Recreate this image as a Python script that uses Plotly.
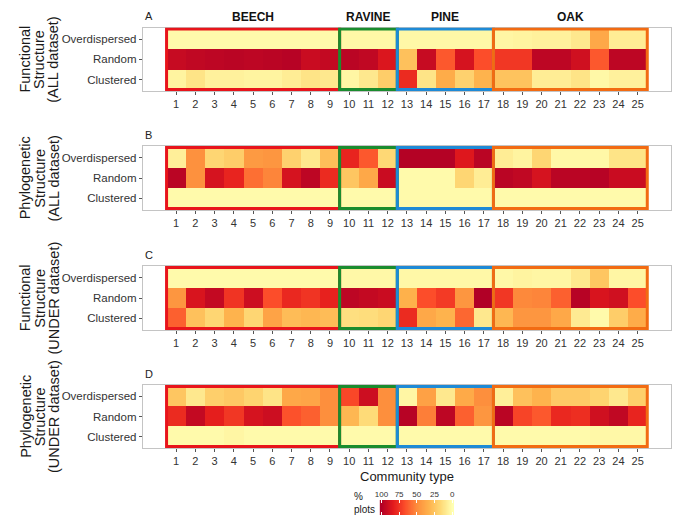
import numpy as np
import plotly.graph_objects as go

# ---- data -----------------------------------------------------------------
COMMUNITIES = list(range(1, 26))
ROWS = ["Clustered", "Random", "Overdispersed"]  # bottom -> top

# Panel A: functional structure, ALL dataset (% plots)
FA_OVER = [2, 2, 2, 2, 2, 2, 2, 2, 2, 3, 3, 3, 3, 3, 3, 3, 3, 4, 5, 6, 6, 10, 38, 8, 8]
FA_RAND = [93, 95, 96, 97, 96, 97, 98, 92, 94, 97, 95, 86, 27, 93, 64, 88, 67, 74, 74, 96, 96, 90, 64, 96, 96]
FA_CLUS = [5, 12, 6, 6, 5, 5, 8, 12, 10, 4, 10, 22, 78, 12, 36, 20, 33, 26, 26, 8, 8, 12, 3, 6, 6]

# Panel B: phylogenetic structure, ALL dataset
PA_OVER = [7, 48, 18, 22, 44, 46, 20, 10, 28, 80, 64, 17, 99, 99, 99, 85, 97, 8, 5, 18, 3, 3, 3, 12, 12]
PA_RAND = [97, 48, 88, 80, 58, 52, 88, 96, 78, 25, 38, 92, 2, 2, 2, 18, 8, 97, 95, 88, 97, 97, 98, 92, 92]
PA_CLUS = [2, 2, 2, 2, 2, 2, 2, 2, 2, 2, 2, 2, 2, 2, 2, 2, 2, 2, 2, 2, 2, 2, 2, 2, 2]

# Panel C: functional structure, UNDER dataset
FU_OVER = [2, 2, 2, 2, 2, 2, 2, 2, 2, 3, 3, 3, 3, 3, 3, 3, 3, 3, 5, 4, 4, 10, 25, 4, 4]
FU_RAND = [46, 87, 94, 75, 91, 67, 79, 75, 81, 96, 94, 92, 34, 67, 73, 46, 100, 74, 51, 52, 62, 98, 87, 90, 67]
FU_CLUS = [62, 27, 18, 33, 18, 40, 29, 31, 29, 14, 15, 18, 78, 38, 33, 60, 10, 31, 46, 46, 38, 9, 2, 22, 36]

# Panel D: phylogenetic structure, UNDER dataset
PU_OVER = [25, 10, 21, 24, 19, 12, 38, 39, 49, 69, 91, 49, 4, 41, 10, 37, 49, 7, 27, 33, 23, 23, 19, 10, 21]
PU_RAND = [78, 94, 82, 74, 88, 91, 66, 62, 49, 31, 16, 49, 98, 54, 96, 62, 46, 97, 70, 64, 79, 77, 90, 95, 80]
PU_CLUS = [2, 2, 2, 4, 2, 2, 2, 2, 2, 2, 2, 2, 2, 2, 2, 2, 2, 2, 2, 2, 2, 2, 3, 3, 3]

PANELS = [
    ("A", ["Functional", "Structure", "(ALL dataset)"], FA_CLUS, FA_RAND, FA_OVER),
    ("B", ["Phylogenetic", "Structure", "(ALL dataset)"], PA_CLUS, PA_RAND, PA_OVER),
    ("C", ["Functional", "Structure", "(UNDER dataset)"], FU_CLUS, FU_RAND, FU_OVER),
    ("D", ["Phylogenetic", "Structure", "(UNDER dataset)"], PU_CLUS, PU_RAND, PU_OVER),
]

# forest types: name, first community, last community
GROUP_NAMES = ["BEECH", "RAVINE", "PINE", "OAK"]
GROUP_START = [1, 10, 13, 18]
GROUP_END = [9, 12, 17, 25]
GROUP_COLORS = ["#E8141B", "#1A8C2E", "#1E8AD6", "#F26B12"]

LEGEND_TICKS = [0, 25, 50, 75, 100]

# ---- styling --------------------------------------------------------------
W, H = 678, 519
FONT = "Arial, 'Liberation Sans', sans-serif"
YLORRD = [[0, "#FFFFB2"], [1 / 6, "#FED976"], [2 / 6, "#FEB24C"], [3 / 6, "#FD8D3C"],
          [4 / 6, "#FC4E2A"], [5 / 6, "#E31A1C"], [1, "#B10026"]]
FRAME = "#C4C4C4"
TXT = "#333333"

X_DOM = [139 / W, 672 / W]
# (top, bottom) of each panel in pixels
PANEL_PX = [(27.5, 91), (146, 210), (266, 330), (385, 448)]


def px_y(p):
    return 1 - p / H


fig = go.Figure()
annotations = []
shapes = []

for i, (letter, title_lines, clus, rand, over) in enumerate(PANELS):
    n = i + 1
    xa, ya = f"x{n}" if n > 1 else "x", f"y{n}" if n > 1 else "y"
    fig.add_trace(go.Heatmap(
        x=COMMUNITIES, y=ROWS, z=[clus, rand, over],
        colorscale=YLORRD, zmin=0, zmax=100, showscale=False,
        xaxis=xa, yaxis=ya,
        hovertemplate="Community %{x}<br>%{y}: %{z}%<extra></extra>",
    ))
    top, bot = PANEL_PX[i]
    axis_common = dict(showline=True, linecolor=FRAME, linewidth=1, mirror=True,
                       showgrid=False, zeroline=False, ticks="outside", ticklen=3,
                       tickcolor="#555555")
    fig.update_layout(**{
        ("xaxis" if n == 1 else f"xaxis{n}"): dict(
            domain=X_DOM, anchor=ya, range=[-0.737, 26.737],
            tickvals=COMMUNITIES, ticktext=[str(c) for c in COMMUNITIES],
            tickfont=dict(family=FONT, size=11, color=TXT), **axis_common),
        ("yaxis" if n == 1 else f"yaxis{n}"): dict(
            domain=[px_y(bot), px_y(top)], anchor=xa, range=[-0.57, 2.57],
            type="category", categoryorder="array", categoryarray=ROWS,
            tickfont=dict(family=FONT, size=11.5, color=TXT), **axis_common),
    })

    # forest-type frames
    for g0, g1, col in zip(GROUP_START, GROUP_END, GROUP_COLORS):
        shapes.append(dict(type="rect", xref=xa, yref=ya,
                           x0=g0 - 0.5, x1=g1 + 0.5, y0=-0.5, y1=2.5,
                           line=dict(color=col, width=3), fillcolor="rgba(0,0,0,0)"))

    # panel letter
    annotations.append(dict(text=letter, xref="paper", yref="paper",
                            x=139 / W, y=px_y(top - 11), xanchor="left", yanchor="middle",
                            showarrow=False, font=dict(family=FONT, size=11, color="#222222")))

    # rotated axis title, one line at a time
    mid = (top + bot) / 2
    for xpx, line in zip([20.5, 35, 49], title_lines):
        annotations.append(dict(text=line, xref="paper", yref="paper",
                                x=xpx / W, y=px_y(mid), xanchor="center", yanchor="middle",
                                textangle=-90, showarrow=False,
                                font=dict(family=FONT, size=14.5, color="#1a1a1a")))

# forest-type headers over the first panel
for name, g0, g1 in zip(GROUP_NAMES, GROUP_START, GROUP_END):
    annotations.append(dict(text=f"<b>{name}</b>", xref="x", yref="paper",
                            x=(g0 + g1) / 2, y=px_y(17), xanchor="center", yanchor="middle",
                            showarrow=False, font=dict(family=FONT, size=12, color="#111111")))

# x-axis title under the last panel
annotations.append(dict(text="Community type", xref="x4", yref="paper",
                        x=13, y=px_y(476), xanchor="center", yanchor="middle",
                        showarrow=False, font=dict(family=FONT, size=13, color="#1a1a1a")))

# ---- colour key -----------------------------------------------------------
ramp = np.linspace(-2.5, 102.5, 211)
fig.add_trace(go.Heatmap(
    x=ramp, y=[0], z=[ramp], colorscale=YLORRD, zmin=0, zmax=100,
    showscale=False, xaxis="x5", yaxis="y5", hoverinfo="skip",
))
fig.update_layout(
    xaxis5=dict(domain=[378 / W, 453 / W], anchor="y5", range=[102.5, -2.5],
                side="top", tickvals=LEGEND_TICKS, ticktext=[str(t) for t in LEGEND_TICKS],
                ticks="inside", ticklen=3, tickcolor="white", tickwidth=1, mirror="ticks",
                showline=False, showgrid=False, zeroline=False,
                tickfont=dict(family=FONT, size=8, color=TXT)),
    yaxis5=dict(domain=[px_y(515), px_y(500)], anchor="x5", range=[-0.5, 0.5],
                visible=False),
)
annotations.append(dict(text="%<br>plots", xref="paper", yref="paper",
                        x=350 / W, y=px_y(503), xanchor="left", yanchor="middle",
                        align="left", showarrow=False,
                        font=dict(family=FONT, size=10, color="#1a1a1a")))

fig.update_layout(
    width=W, height=H, margin=dict(l=0, r=0, t=0, b=0),
    paper_bgcolor="white", plot_bgcolor="white",
    annotations=annotations, shapes=shapes, showlegend=False,
)

fig.write_html("out.html")
